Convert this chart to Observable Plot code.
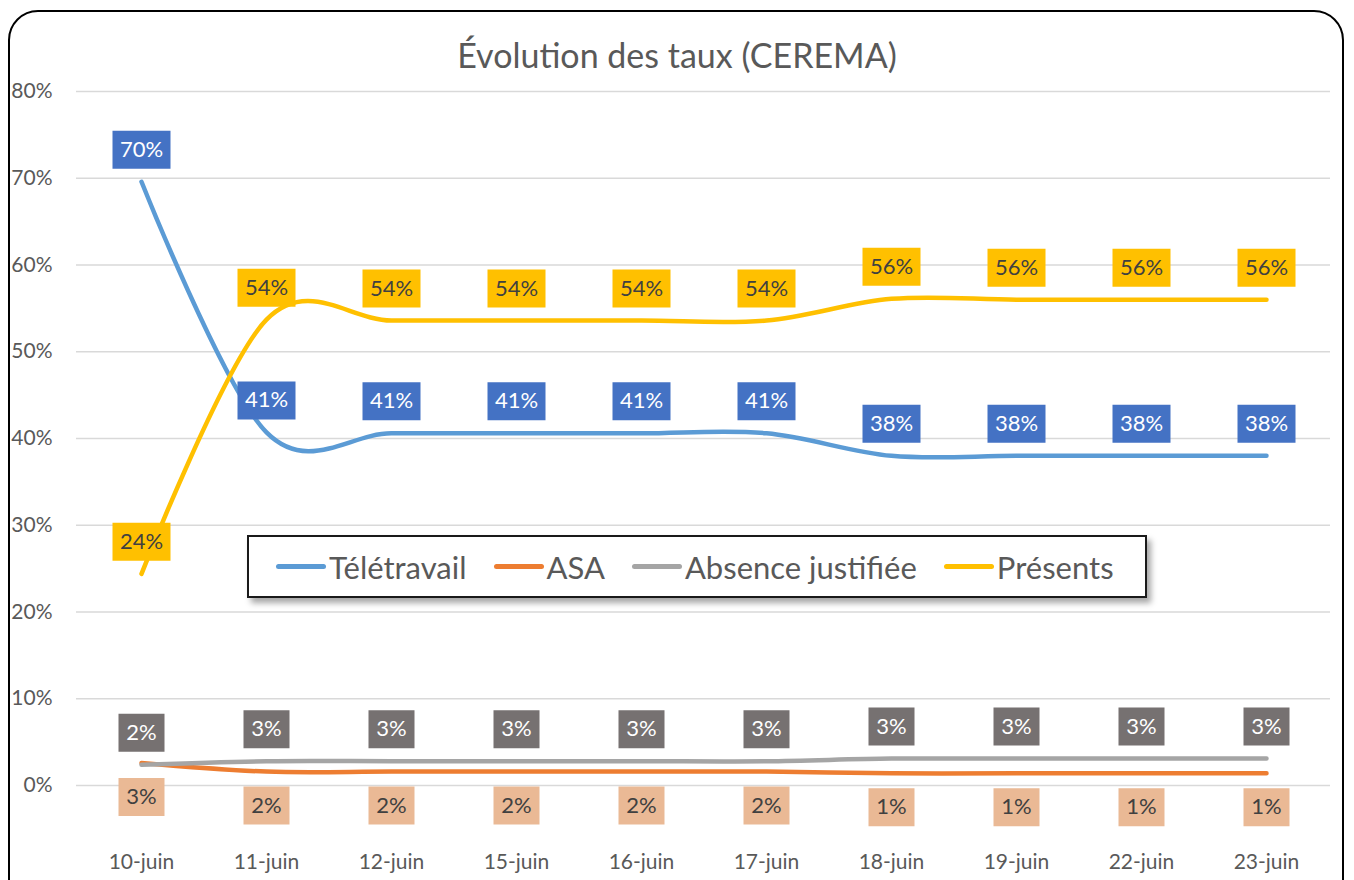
<!DOCTYPE html>
<html>
<head>
<meta charset="utf-8">
<script src="https://cdn.jsdelivr.net/npm/d3@7"></script>
<script src="https://cdn.jsdelivr.net/npm/@observablehq/plot@0.6"></script>
<style>
  html, body { margin: 0; padding: 0; background: #fff; width: 1354px; height: 880px; overflow: hidden; }
  #wrap { position: relative; width: 1354px; height: 880px; font-family: Lato, "Open Sans", sans-serif; }
  #frame { position: absolute; left: 8px; top: 10px; width: 1336px; height: 900px; border: 2px solid #000; border-radius: 30px; box-sizing: border-box; pointer-events: none; }
  #title { position: absolute; left: 0; width: 1354px; top: 34px; line-height: 42px; text-align: center; font-size: 34px; color: #595959; }
  #chart { position: absolute; left: 0; top: 0; }
  #legend { position: absolute; left: 247px; top: 535px; width: 900px; height: 63px; box-sizing: border-box; border: 2px solid #1a1a1a; background: #fff; box-shadow: 4px 5px 6px rgba(0,0,0,0.35); display: flex; align-items: center; font-size: 31px; color: #595959; padding-left: 27px; white-space: nowrap; overflow: hidden; }
  .item { display: flex; align-items: center; margin-right: 27px; flex-shrink: 0; white-space: nowrap; }
  .sw { width: 50px; height: 5px; border-radius: 3px; margin-right: 3px; flex-shrink: 0; }
</style>
</head>
<body>
<div id="wrap">
  <div id="chart"></div>
  <div id="title">Évolution des taux (CEREMA)</div>
  <div id="legend"></div>
  <div id="frame"></div>
</div>
<script>
// ---- data ----
const dates = ["10-juin", "11-juin", "12-juin", "15-juin", "16-juin", "17-juin", "18-juin", "19-juin", "22-juin", "23-juin"];
const teletravail = [0.696, 0.407, 0.406, 0.406, 0.406, 0.406, 0.380, 0.380, 0.380, 0.380];
const asa         = [0.026, 0.016, 0.016, 0.016, 0.016, 0.016, 0.014, 0.014, 0.014, 0.014];
const absence     = [0.024, 0.028, 0.028, 0.028, 0.028, 0.028, 0.031, 0.031, 0.031, 0.031];
const presents    = [0.244, 0.537, 0.536, 0.536, 0.536, 0.536, 0.561, 0.560, 0.560, 0.560];
const seriesNames = ["Télétravail", "ASA", "Absence justifiée", "Présents"];
const yTicks = [0, 0.1, 0.2, 0.3, 0.4, 0.5, 0.6, 0.7, 0.8];

const seriesStyle = {
  "Télétravail":       {line: "#5B9BD5", box: "#4472C4", text: "#FFFFFF", dy: -32},
  "ASA":               {line: "#ED7D31", box: "#EAB995", text: "#404040", dy: 34},
  "Absence justifiée": {line: "#A5A5A5", box: "#767171", text: "#FFFFFF", dy: -32},
  "Présents":          {line: "#FFC000", box: "#FFC000", text: "#404040", dy: -32}
};
const valuesBySeries = {"Télétravail": teletravail, "ASA": asa, "Absence justifiée": absence, "Présents": presents};

const rows = [];
for (const s of seriesNames) {
  valuesBySeries[s].forEach((v, i) => rows.push({series: s, date: dates[i], value: v, label: Math.round(v * 100) + "%"}));
}

const box = (w, h) => ({draw(ctx) { ctx.rect(-w / 2, -h / 2, w, h); }});

const marks = [
  Plot.gridY(yTicks, {stroke: "#D9D9D9", strokeOpacity: 1, strokeWidth: 1.5})
];
for (const s of seriesNames) {
  marks.push(Plot.line(rows.filter(d => d.series === s), {
    x: "date", y: "value", stroke: seriesStyle[s].line, strokeWidth: 4.5,
    curve: "cardinal", strokeLinecap: "round", strokeLinejoin: "round"
  }));
}
for (const s of seriesNames) {
  const st = seriesStyle[s];
  const data = rows.filter(d => d.series === s);
  marks.push(Plot.dot(data.filter(d => d.label.length >= 3), {x: "date", y: "value", symbol: box(58, 38), fill: st.box, stroke: null, dy: st.dy}));
  marks.push(Plot.dot(data.filter(d => d.label.length < 3), {x: "date", y: "value", symbol: box(46, 38), fill: st.box, stroke: null, dy: st.dy}));
  marks.push(Plot.text(data, {x: "date", y: "value", text: "label", fill: st.text, dy: st.dy, fontSize: 22}));
}
marks.push(Plot.axisX({tickSize: 0, tickPadding: 69, fontSize: 21, fill: "#595959", label: null}));
marks.push(Plot.axisY(yTicks, {tickSize: 0, tickPadding: 24, fontSize: 21, fill: "#595959", label: null, tickFormat: d => Math.round(d * 100) + "%"}));

const chart = Plot.plot({
  width: 1354,
  height: 880,
  marginLeft: 76,
  marginRight: 24,
  marginTop: 91,
  marginBottom: 95,
  style: {fontFamily: "Lato, 'Open Sans', sans-serif", background: "#fff", color: "#595959"},
  x: {type: "point", domain: dates, padding: 0.5},
  y: {domain: [0, 0.8]},
  marks
});
document.getElementById("chart").appendChild(chart);

const legend = document.getElementById("legend");
for (const s of seriesNames) {
  const it = document.createElement("div");
  it.className = "item";
  const sw = document.createElement("span");
  sw.className = "sw";
  sw.style.background = seriesStyle[s].line;
  const tx = document.createElement("span");
  tx.textContent = s;
  it.appendChild(sw); it.appendChild(tx);
  legend.appendChild(it);
}
</script>
</body>
</html>
